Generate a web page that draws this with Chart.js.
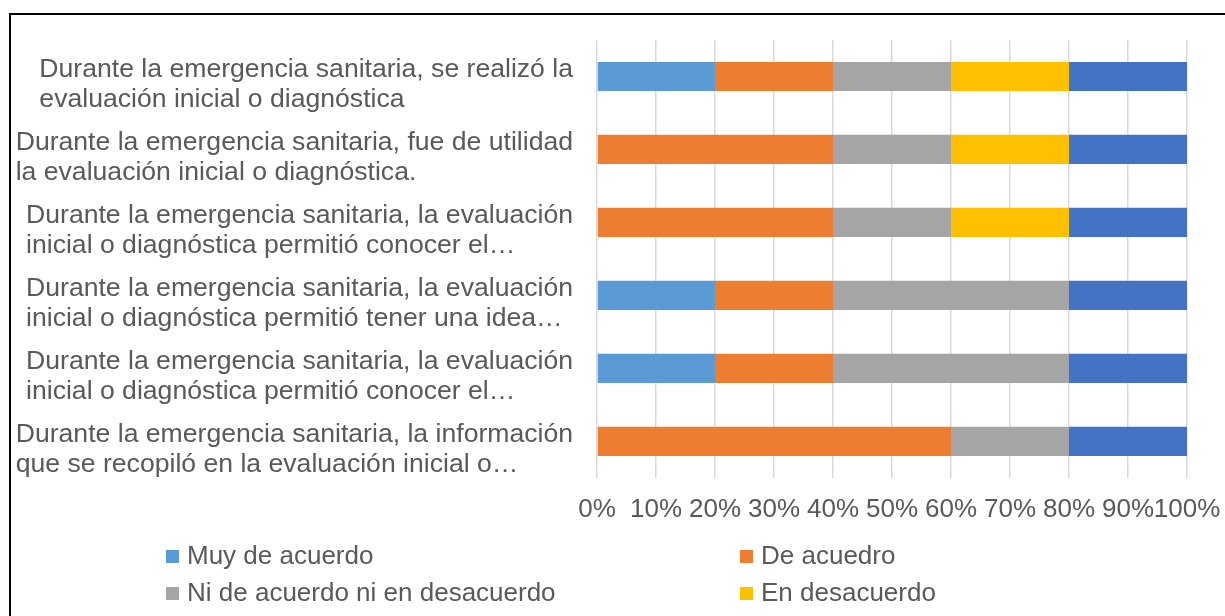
<!DOCTYPE html>
<html>
<head>
<meta charset="utf-8">
<script src="https://cdn.jsdelivr.net/npm/chart.js@4/dist/chart.umd.min.js"></script>
<style>
    html, body { margin: 0; padding: 0; background: #fff; overflow: hidden; }
    #wrap { position: relative; width: 1225px; height: 616px; overflow: hidden; }
    #frame { position: absolute; left: 9px; top: 13px; width: 1400px; height: 800px; border: 2px solid #000; box-sizing: border-box; }
    #chartBox { position: absolute; left: 0; top: 0; width: 1225px; height: 616px; }
    .leg { position: absolute; font: 26px "Liberation Sans", Arial, sans-serif; color: #595959; white-space: nowrap; line-height: 30px; }
    .leg i { display: inline-block; width: 13px; height: 13px; margin-right: 8px; vertical-align: 1px; }
</style>
</head>
<body>
<div id="wrap">
    <div id="frame"></div>
    <div id="chartBox"><canvas id="chart"></canvas></div>
    <div id="legend"></div>
</div>
<script>
const categories = [
    ['Durante la emergencia sanitaria, se realizó la', 'evaluación inicial o diagnóstica'],
    ['Durante la emergencia sanitaria, fue de utilidad', 'la evaluación inicial o diagnóstica.'],
    ['Durante la emergencia sanitaria, la evaluación', 'inicial o diagnóstica permitió conocer el…'],
    ['Durante la emergencia sanitaria, la evaluación', 'inicial o diagnóstica permitió tener una idea…'],
    ['Durante la emergencia sanitaria, la evaluación', 'inicial o diagnóstica permitió conocer el…'],
    ['Durante la emergencia sanitaria, la información', 'que se recopiló en la evaluación inicial o…']
];

const seriesNames = ['Muy de acuerdo', 'De acuedro', 'Ni de acuerdo ni en desacuerdo', 'En desacuerdo', 'Totalmente en desacuerdo'];
const seriesColors = ['#5B9BD5', '#ED7D31', '#A5A5A5', '#FFC000', '#4472C4'];

const muyDeAcuerdo = [20, 0, 0, 20, 20, 0];
const deAcuerdo = [20, 40, 40, 20, 20, 60];
const niNi = [20, 20, 20, 40, 40, 20];
const enDesacuerdo = [20, 20, 20, 0, 0, 0];
const totalDesacuerdo = [20, 20, 20, 20, 20, 20];

const xTicks = [0, 10, 20, 30, 40, 50, 60, 70, 80, 90, 100];

const seriesValues = [muyDeAcuerdo, deAcuerdo, niNi, enDesacuerdo, totalDesacuerdo];
const FONT = '"Liberation Sans", Arial, sans-serif';
const TEXT = '#595959';

// etiquetas de categoria: bloque alineado a la derecha, lineas alineadas a la izquierda
const categoryLabels = {
    id: 'categoryLabels',
    afterDraw(chart) {
        const ctx = chart.ctx;
        const yScale = chart.scales.y;
        const right = chart.chartArea.left - 24;
        ctx.save();
        ctx.font = '26.6px ' + FONT;
        ctx.fillStyle = TEXT;
        ctx.textAlign = 'left';
        ctx.textBaseline = 'middle';
        categories.forEach((lines, i) => {
            const y = yScale.getPixelForValue(i);
            const maxW = Math.max(...lines.map(l => ctx.measureText(l).width));
            const x = right - maxW;
            lines.forEach((line, k) => {
                ctx.fillText(line, x, y + 8 + (k - (lines.length - 1) / 2) * 30);
            });
        });
        ctx.restore();
    }
};

const ctx = document.getElementById('chart').getContext('2d');
new Chart(ctx, {
    type: 'bar',
    data: {
        labels: categories.map(c => c.join(' ')),
        datasets: seriesNames.map((name, i) => ({
            label: name,
            data: seriesValues[i],
            backgroundColor: seriesColors[i],
            borderWidth: 0,
            barPercentage: 0.4,
            categoryPercentage: 1
        }))
    },
    options: {
        indexAxis: 'y',
        responsive: true,
        maintainAspectRatio: false,
        animation: false,
        layout: { padding: { left: 597, right: 38, top: 40, bottom: 75 } },
        plugins: {
            legend: { display: false },
            tooltip: { enabled: false }
        },
        scales: {
            x: {
                stacked: true,
                min: 0,
                max: 100,
                afterBuildTicks: axis => { axis.ticks = xTicks.map(v => ({ value: v })); },
                afterFit: axis => { axis.paddingLeft = 0; axis.paddingRight = 0; },
                ticks: {
                    callback: v => v + '%',
                    font: { family: FONT, size: 26 },
                    color: TEXT,
                    padding: 16,
                    maxRotation: 0,
                    autoSkip: false
                },
                grid: { color: '#D9D9D9', lineWidth: 1.5, drawTicks: false },
                border: { display: false }
            },
            y: {
                stacked: true,
                display: false,
                offset: true,
                grid: { display: false }
            }
        }
    },
    plugins: [categoryLabels]
});

// leyenda en dos columnas como en el original
const legend = document.getElementById('legend');
seriesNames.forEach((name, i) => {
    const item = document.createElement('div');
    item.className = 'leg';
    item.style.left = (i % 2 === 0 ? 166 : 740) + 'px';
    item.style.top = (540 + Math.floor(i / 2) * 37) + 'px';
    item.innerHTML = '<i style="background:' + seriesColors[i] + '"></i>' + name;
    legend.appendChild(item);
});
</script>
</body>
</html>
